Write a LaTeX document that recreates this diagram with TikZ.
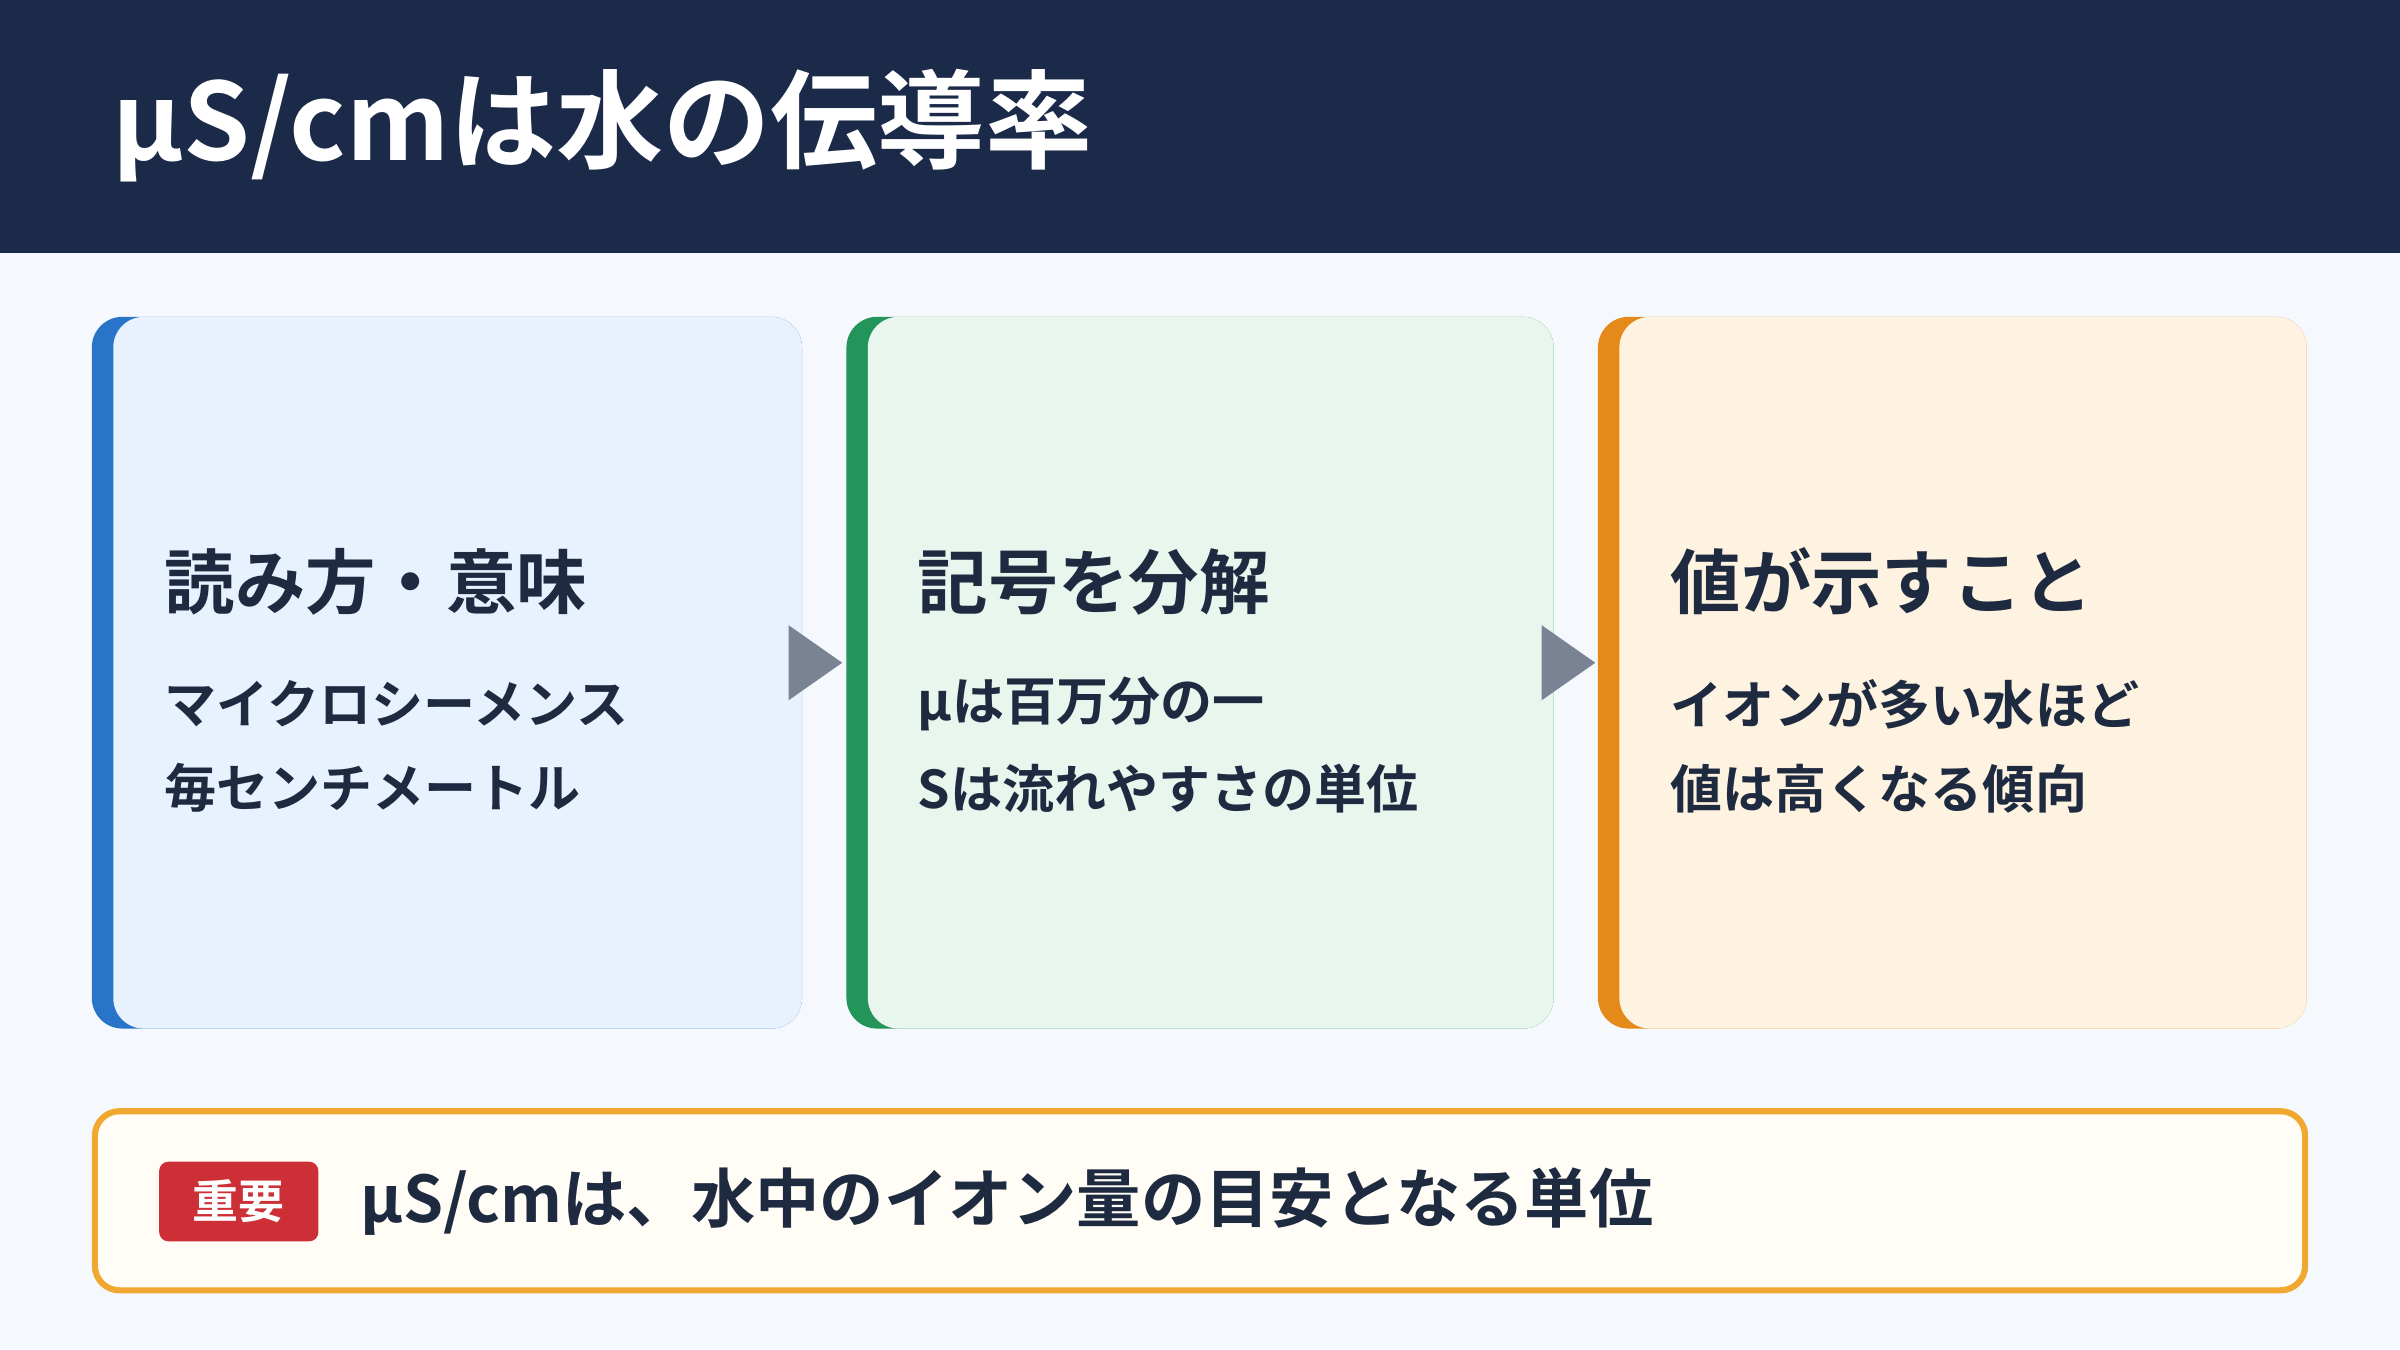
\documentclass[tikz,border=0pt]{standalone}
\usepackage{fontspec}
\setmainfont{Noto Sans CJK JP}[BoldFont={Noto Sans CJK JP Bold}]
\usetikzlibrary{shapes.geometric}
\definecolor{navy}{HTML}{1C2A4A}
\definecolor{bg}{HTML}{F5F8FC}
\definecolor{txt}{HTML}{1E2A40}
\definecolor{bbar}{HTML}{2874C8}\definecolor{bfill}{HTML}{E8F2FE}
\definecolor{gbar}{HTML}{23955A}\definecolor{gfill}{HTML}{E8F6EE}
\definecolor{obar}{HTML}{E38A1A}\definecolor{ofill}{HTML}{FEF2E0}
\definecolor{gray}{HTML}{7A8394}
\definecolor{note}{HTML}{F0A830}\definecolor{notefill}{HTML}{FFFDF5}
\definecolor{badge}{HTML}{CC2F36}
\tikzset{
 head/.style={anchor=west,font=\fontsize{46}{50}\selectfont\bfseries,text=txt},
 body/.style={anchor=west,font=\fontsize{34}{38}\selectfont\bfseries,text=txt},
 tri/.style={isosceles triangle,fill=gray,minimum height=35pt,minimum width=38pt,inner sep=0pt,isosceles triangle apex angle=70}
}
\newcommand{\card}[5]{% x1 x2 bar fill name
 \fill[#3,rounded corners=20pt] (#1,-207) rectangle (#2,-672);
 \fill[#4,rounded corners=20pt] (#1+14,-207) rectangle (#2,-672);
 \coordinate (#5) at (#1,-207);
}
\begin{document}
\begin{tikzpicture}[x=1pt,y=1pt]
\useasboundingbox (0,0) rectangle (1568,-882);
\fill[bg] (0,0) rectangle (1568,-882);
\fill[navy] (0,0) rectangle (1568,-165);
\node[anchor=west,text=white,font=\fontsize{70}{74}\selectfont\bfseries] (title) at (70,-82) {µS/cmは水の伝導率};
\card{60}{524}{bbar}{bfill}{c1}
\card{553}{1015}{gbar}{gfill}{c2}
\card{1044}{1507}{obar}{ofill}{c3}
\node[head] (h1) at (104,-380) {読み方・意味};
\node[body] (a1) at (104,-460) {マイクロシーメンス};
\node[body] (b1) at (104,-515) {毎センチメートル};
\node[head] (h2) at (596,-380) {記号を分解};
\node[body] (a2) at (596,-460) {µは百万分の一};
\node[body] (b2) at (596,-515) {Sは流れやすさの単位};
\node[head] (h3) at (1088,-380) {値が示すこと};
\node[body] (a3) at (1088,-460) {イオンが多い水ほど};
\node[body] (b3) at (1088,-515) {値は高くなる傾向};
\node[tri] (t1) at (528,-433) {};
\node[tri] (t2) at (1020,-433) {};
\draw[note,line width=4pt,fill=notefill,rounded corners=16pt] (62,-726) rectangle (1506,-843);
\fill[badge,rounded corners=6pt] (104,-759) rectangle (208,-811);
\node[text=white,font=\fontsize{30}{34}\selectfont\bfseries] (badge) at (156,-785) {重要};
\node[anchor=west,text=txt,font=\fontsize{42}{46}\selectfont\bfseries] (note) at (232,-785) {µS/cmは、水中のイオン量の目安となる単位};
\end{tikzpicture}
\end{document}
